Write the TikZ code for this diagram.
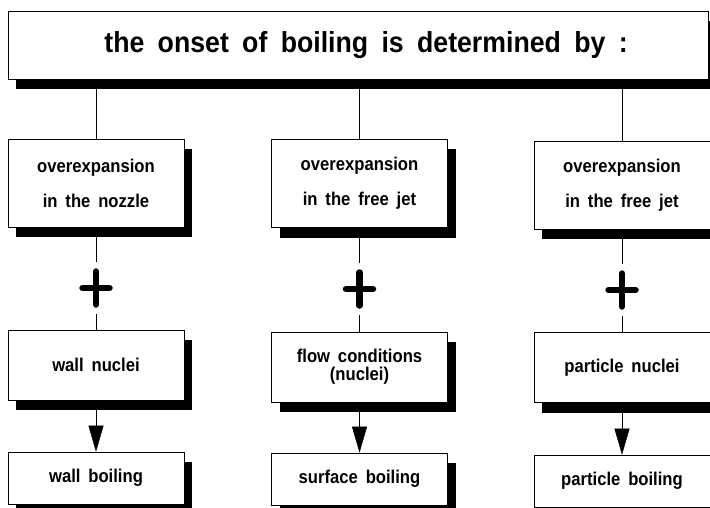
\documentclass[tikz,border=0pt]{standalone}
\usepackage{fontspec}
\setmainfont{Liberation Sans}
\newfontfamily\chartfont[WordSpace=1.7,FakeStretch=0.9]{Liberation Sans}
\newfontfamily\titlefont[WordSpace=1.8,FakeStretch=0.92]{Liberation Sans}
\usetikzlibrary{arrows.meta,shadows}

\begin{document}
\begin{tikzpicture}
		[x=1pt,y=1pt,
		shade/.style={drop shadow={shadow xshift=8pt,shadow yshift=-10pt,fill=black,opacity=1}},
		titlebox/.style={rectangle,draw=black,fill=white,semithick,shade,
inner sep=0pt,minimum width=700pt,minimum height=68pt,
font=\titlefont\bfseries\fontsize{29}{34}\selectfont},
		causebox/.style={rectangle,draw=black,fill=white,semithick,shade,align=center,
inner sep=0pt,minimum width=176pt,minimum height=88pt,
font=\chartfont\bfseries\fontsize{18.5}{35}\selectfont},
		nucbox/.style={causebox,minimum height=70pt,
font=\chartfont\bfseries\fontsize{18.5}{18}\selectfont},
		boilbox/.style={causebox,minimum height=52pt,
shadow xshift=7pt,shadow yshift=-4pt},
		plus/.style={inner sep=0pt,outer sep=6pt,minimum width=34pt,minimum height=40pt,
path picture={\draw[line width=6.5pt,line cap=round]
([yshift=-3.5pt]path picture bounding box.north) -- ([yshift=3.5pt]path picture bounding box.south)
([xshift=3.5pt]path picture bounding box.west) -- ([xshift=-3.5pt]path picture bounding box.east);}},
		edgestyle/.style={-,thin},
		arrowstyle/.style={-{Triangle[length=26pt,width=15pt]},thin}]
		\useasboundingbox (0, 0) rectangle (710, -508);
		\node at (358, -45) (title) [titlebox] {\hspace*{16pt}the onset of boiling is determined by :};
		% first row
		\node at (96, -183) (overA) [causebox] {overexpansion\\in the nozzle}
			edge [edgestyle] (overA |- title.south);
		\node at (359.5, -183.5) (overB) [causebox] {overexpansion\\in the free jet}
			edge [edgestyle] (overB |- title.south);
		\node at (622, -185) (overC) [causebox] {overexpansion\\in the free jet}
			edge [edgestyle] (overC |- title.south);
		% plus signs
		\node at (96, -288) (plusA) [plus] {} edge [edgestyle] (overA);
		\node at (359.5, -289) (plusB) [plus] {} edge [edgestyle] (overB);
		\node at (622, -290) (plusC) [plus] {} edge [edgestyle] (overC);
		% second row
		\node at (96, -365) (nucA) [nucbox] {wall nuclei} edge [edgestyle] (plusA);
		\node at (359.5, -367) (nucB) [nucbox] {flow conditions\\(nuclei)} edge [edgestyle] (plusB);
		\node at (622, -367.5) (nucC) [nucbox] {particle nuclei} edge [edgestyle] (plusC);
		% third row
		\node at (96, -478) (boilA) [boilbox] {wall boiling};
		\node at (359.5, -479) (boilB) [boilbox] {surface boiling};
		\node at (622, -481) (boilC) [boilbox] {particle boiling};
		\draw [arrowstyle] (nucA) -- (boilA);
		\draw [arrowstyle] (nucB) -- (boilB);
		\draw [arrowstyle] (nucC) -- (boilC);
	\end{tikzpicture}
\end{document}
